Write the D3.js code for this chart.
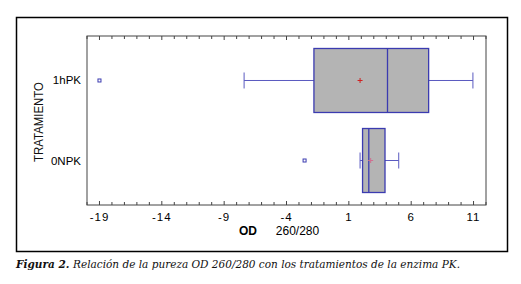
<!DOCTYPE html>
<html lang="es">
<head>
<meta charset="utf-8">
<style>
  body { margin: 0; background: #fff; }
  svg { display: block; }
</style>
</head>
<body>
<script src="https://cdn.jsdelivr.net/npm/d3@7"></script>
<script>
// data
let groups   = ["1hPK", "0NPK"];
let lowWhisk = [-7.4, 1.9];
let q1       = [-1.8, 2.1];
let medians  = [4.1, 2.6];
let q3       = [7.4, 3.9];
let hiWhisk  = [10.95, 5.0];
let means    = [1.9, 2.75];
let outliers = [[-19], [-2.55]];
let xTicks   = [-19, -14, -9, -4, 1, 6, 11];

let w = 521, h = 284;
let svg = d3.select("body").append("svg")
    .attr("width", w)
    .attr("height", h);

// outer frame
svg.append("rect")
    .attr("x", 16.5).attr("y", 17.5)
    .attr("width", 491).attr("height", 234)
    .attr("fill", "none")
    .attr("stroke", "#000")
    .attr("stroke-width", 1.5);

let pLeft = 87, pRight = 486, pTop = 36, pBottom = 205;

let x = d3.scaleLinear().domain([-20, 12]).range([pLeft, pRight]);
let y = d3.scalePoint().domain(groups).range([pTop, pBottom]).padding(0.556);
let boxH = 64;

// plot border
svg.append("rect")
    .attr("x", pLeft).attr("y", pTop)
    .attr("width", pRight - pLeft).attr("height", pBottom - pTop)
    .attr("fill", "none")
    .attr("stroke", "#444")
    .attr("stroke-width", 1);

// inward ticks, bottom and top
let minor = d3.range(-20, 13, 1);
svg.append("g").selectAll("line")
    .data(minor).enter().append("line")
    .attr("x1", d => x(d)).attr("x2", d => x(d))
    .attr("y1", pBottom).attr("y2", d => pBottom - (xTicks.includes(d) ? 4 : 3))
    .attr("stroke", "#444");
svg.append("g").selectAll("line")
    .data(minor).enter().append("line")
    .attr("x1", d => x(d)).attr("x2", d => x(d))
    .attr("y1", pTop).attr("y2", d => pTop + (xTicks.includes(d) ? 4 : 3))
    .attr("stroke", "#444");

svg.append("g").selectAll("text")
    .data(xTicks).enter().append("text")
    .attr("x", d => x(d))
    .attr("y", 221)
    .attr("text-anchor", "middle")
    .attr("font-family", "Liberation Sans, Arial, sans-serif")
    .attr("font-size", "11.5px")
    .attr("letter-spacing", "1px")
    .attr("fill", "#000")
    .text(d => d < 0 ? "-" + Math.abs(d) : d);

// axis titles
svg.append("text")
    .attr("x", 248).attr("y", 235)
    .attr("text-anchor", "middle")
    .attr("font-family", "Liberation Sans, Arial, sans-serif")
    .attr("font-size", "12px")
    .attr("font-weight", "bold")
    .attr("fill", "#000")
    .text("OD");
svg.append("text")
    .attr("x", 297.5).attr("y", 235)
    .attr("text-anchor", "middle")
    .attr("font-family", "Liberation Sans, Arial, sans-serif")
    .attr("font-size", "12px")
    .attr("fill", "#000")
    .text("260/280");

svg.append("text")
    .attr("transform", "translate(43,122) rotate(-90)")
    .attr("text-anchor", "middle")
    .attr("font-family", "Liberation Sans, Arial, sans-serif")
    .attr("font-size", "13px")
    .attr("textLength", 80)
    .attr("lengthAdjust", "spacingAndGlyphs")
    .attr("fill", "#111")
    .text("TRATAMIENTO");

// category labels
svg.append("g").selectAll("text")
    .data(groups).enter().append("text")
    .attr("x", 81)
    .attr("y", d => y(d) + 4)
    .attr("text-anchor", "end")
    .attr("font-family", "Liberation Sans, Arial, sans-serif")
    .attr("font-size", "11.5px")
    .attr("fill", "#000")
    .text(d => d);

let blue = "#3b3bb0";
let whiskBlue = "#5a5ac0";

let g = svg.append("g").selectAll("g")
    .data(groups).enter().append("g");

// whiskers
g.append("line")
    .attr("x1", (d, i) => x(lowWhisk[i])).attr("x2", (d, i) => x(q1[i]))
    .attr("y1", d => y(d)).attr("y2", d => y(d))
    .attr("stroke", whiskBlue);
g.append("line")
    .attr("x1", (d, i) => x(q3[i])).attr("x2", (d, i) => x(hiWhisk[i]))
    .attr("y1", d => y(d)).attr("y2", d => y(d))
    .attr("stroke", whiskBlue);
g.append("line")
    .attr("x1", (d, i) => x(lowWhisk[i])).attr("x2", (d, i) => x(lowWhisk[i]))
    .attr("y1", d => y(d) - 8).attr("y2", d => y(d) + 8)
    .attr("stroke", whiskBlue);
g.append("line")
    .attr("x1", (d, i) => x(hiWhisk[i])).attr("x2", (d, i) => x(hiWhisk[i]))
    .attr("y1", d => y(d) - 8).attr("y2", d => y(d) + 8)
    .attr("stroke", whiskBlue);

// boxes
g.append("rect")
    .attr("x", (d, i) => x(q1[i]))
    .attr("y", d => y(d) - boxH / 2)
    .attr("width", (d, i) => x(q3[i]) - x(q1[i]))
    .attr("height", boxH)
    .attr("fill", "#b4b4b4")
    .attr("stroke", blue)
    .attr("stroke-width", 1.3);
g.append("line")
    .attr("x1", (d, i) => x(medians[i])).attr("x2", (d, i) => x(medians[i]))
    .attr("y1", d => y(d) - boxH / 2).attr("y2", d => y(d) + boxH / 2)
    .attr("stroke", blue)
    .attr("stroke-width", 1.3);

// mean markers
g.append("path")
    .attr("d", (d, i) => {
        let cx = x(means[i]), cy = y(d);
        return `M${cx - 2.5},${cy}H${cx + 2.5}M${cx},${cy - 2.5}V${cy + 2.5}`;
    })
    .attr("stroke", (d, i) => i === 0 ? "#d02020" : "#d07090")
    .attr("stroke-width", 1);

// outliers
g.selectAll("rect.out")
    .data((d, i) => outliers[i].map(v => ({v: v, g: d})))
    .enter().append("rect")
    .attr("class", "out")
    .attr("x", o => x(o.v) - 1.5)
    .attr("y", o => y(o.g) - 1.5)
    .attr("width", 3).attr("height", 3)
    .attr("fill", "none")
    .attr("stroke", blue)
    .attr("stroke-width", 1);

// caption
let cap = svg.append("text")
    .attr("x", 16).attr("y", 268)
    .attr("font-family", "DejaVu Serif, serif")
    .attr("font-size", "10.5px")
    .attr("font-style", "italic")
    .attr("fill", "#111");
cap.append("tspan").attr("font-weight", "bold").text("Figura 2. ");
cap.append("tspan").text("Relación de la pureza OD 260/280 con los tratamientos de la enzima PK.");
</script>
</body>
</html>
